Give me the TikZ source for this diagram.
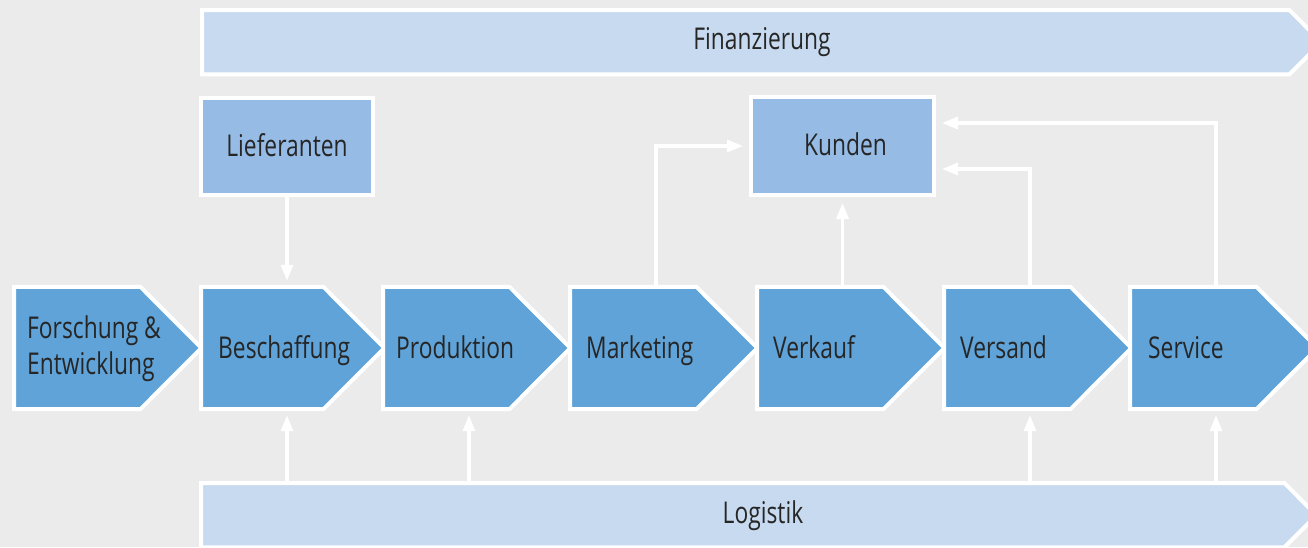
\documentclass[tikz,border=0pt]{standalone}
\usepackage{fontspec}
\setmainfont{Open Sans}[FakeStretch=0.76]
\usetikzlibrary{arrows.meta}

\definecolor{bg}{HTML}{EBEBEB}
\definecolor{chevfill}{HTML}{5FA3D8}
\definecolor{boxfill}{HTML}{96BCE6}
\definecolor{barfill}{HTML}{C8DAEF}
\definecolor{ink}{HTML}{262626}

% one process step: name, left edge, body width (the point adds 61)
\newcommand\procstep[3]{%
  \node[body, minimum width=#3pt] (#1) at (#2,348) {};
  \path[chevshape] (#1.north west) -- (#1.north east) -- ([xshift=61pt]#1.east)
    -- (#1.south east) -- (#1.south west) -- cycle;
  \coordinate (#1-x) at (#2+86,348);
}

\begin{document}
\begin{tikzpicture}[x=1pt,y=-1pt,
  body/.style={inner sep=0pt, minimum height=122pt, anchor=west},
  chevshape/.style={fill=chevfill, draw=white, line width=4pt, line join=miter},
  barshape/.style={fill=barfill, draw=white, line width=4pt, line join=miter},
  boxnode/.style={fill=boxfill, draw=white, line width=4pt, inner sep=0pt},
  lbl/.style={text=ink, font=\fontsize{30}{36}\selectfont, inner sep=0pt},
  arr/.style={draw=white, line width=3.3pt, -{Triangle[length=16pt,width=12pt]}, shorten >=6pt}]

\useasboundingbox (0,0) rectangle (1308,547);
\fill[bg] (0,0) rectangle (1308,547);

% top bar: Finanzierung
\node[inner sep=0pt, minimum width=1087pt, minimum height=64pt, anchor=north west] (fin) at (202,10) {};
\path[barshape] (fin.north west) -- (fin.north east) -- ([xshift=32pt]fin.east)
  -- (fin.south east) -- (fin.south west) -- cycle;
\node[lbl, anchor=base] (fin-t) at (762,49) {Finanzierung};

% bottom bar: Logistik
\node[inner sep=0pt, minimum width=1083pt, minimum height=64pt, anchor=north west] (log) at (201,483) {};
\path[barshape] (log.north west) -- (log.north east) -- ([xshift=32pt]log.east)
  -- (log.south east) -- (log.south west) -- cycle;
\node[lbl, anchor=base] (log-t) at (763,523) {Logistik};

% partner boxes
\node[boxnode, minimum width=172pt, minimum height=97pt] (lief) at (287,146.5) {};
\node[lbl, anchor=base] (lief-t) at (287,156) {Lieferanten};
\node[boxnode, minimum width=183pt, minimum height=98pt] (kund) at (842.5,146) {};
\node[lbl, anchor=base] (kund-t) at (845.5,155) {Kunden};

% value chain
\procstep{fe}{14}{126}
\procstep{besch}{201}{122}
\procstep{prod}{383}{126}
\procstep{mark}{570}{126}
\procstep{verk}{757}{126}
\procstep{vers}{944}{126}
\procstep{serv}{1130}{126}

\node[lbl, anchor=base west] (fe-t1) at (27,338) {Forschung \&};
\node[lbl, anchor=base west] (fe-t2) at (27,374) {Entwicklung};
\node[lbl, anchor=base west] (besch-t) at (218,358) {Beschaffung};
\node[lbl, anchor=base west] (prod-t) at (396,358) {Produktion};
\node[lbl, anchor=base west] (mark-t) at (586,358) {Marketing};
\node[lbl, anchor=base west] (verk-t) at (773,358) {Verkauf};
\node[lbl, anchor=base west] (vers-t) at (960,358) {Versand};
\node[lbl, anchor=base west] (serv-t) at (1148,358) {Service};

% flows
\draw[arr] (lief.south) -- (lief.south |- besch.north);
\draw[arr] (besch-x |- log.north) -- (besch-x |- besch.south);
\draw[arr] (prod-x |- log.north) -- (prod-x |- prod.south);
\draw[arr] (vers-x |- log.north) -- (vers-x |- vers.south);
\draw[arr] (serv-x |- log.north) -- (serv-x |- serv.south);
\draw[arr] (mark-x |- mark.north) |- (kund.west);
\draw[arr] (kund.south |- verk.north) -- (kund.south);
\draw[arr] (vers-x |- vers.north) |- ([yshift=-23pt]kund.east);
\draw[arr] (serv-x |- serv.north) |- ([yshift=23pt]kund.east);

\end{tikzpicture}
\end{document}
